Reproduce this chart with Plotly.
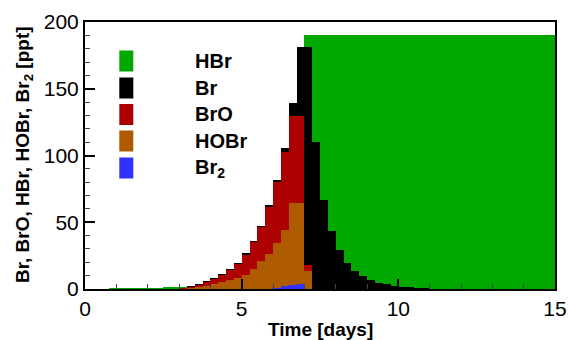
import numpy as np
import plotly.graph_objects as go

# Start of each 0.25-day output interval (days)
time_start = np.arange(0.0, 15.0, 0.25)
bin_width = 0.25

# Mixing ratios per interval [ppt]
br2 = [0]*22 + [0.1, 0.3, 0.8, 2.0, 3.3, 3.7] + [0]*32

hobr = ([0]*10
        + [0.1, 0.2, 0.4, 0.8, 1.5, 2.5, 3.8, 5.0, 6.5, 8.3,
           10.8, 15.0, 20.9, 26.2, 33.7, 42.0, 61.2, 60.8, 13.3]
        + [0]*31)

bro = ([0]*10
       + [0.2, 0.3, 0.6, 1.2, 1.8, 2.8, 3.7, 5.8, 8.0, 10.7,
          15.0, 20.3, 25.5, 35.0, 45.8, 58.8, 65.3, 65.3, 5.0]
       + [0]*31)

br = ([0]*4
      + [0.1]*8
      + [0.2, 0.2, 0.2, 0.3, 0.3, 0.3, 0.4, 0.4, 0.5,
         0.6, 0.6, 0.8, 1.0, 2.5, 9.2, 51.2, 162.7, 109.8, 66.5,
         43.3, 29.0, 19.5, 13.5, 9.5, 6.5, 4.8, 3.5, 2.3, 1.5,
         1.2, 0.9, 0.6, 0.2]
      + [0]*15)

hbr = ([0]*3
       + [0.4, 0.5, 0.5, 0.6, 0.6, 0.6, 0.6, 0.5, 0.4, 0.3]
       + [0]*15
       + [9.3, 80.2, 123.5, 146.7, 161.0, 170.5, 176.5, 180.5,
          183.5, 185.2, 186.5, 187.7, 188.5, 188.8, 189.1, 189.4, 189.8]
       + [190.0]*15)

names = ["Br<sub>2</sub>", "HOBr", "BrO", "Br", "HBr"]
series = [br2, hobr, bro, br, hbr]
colors = ["#3030ff", "#ad5a00", "#ad0000", "#000000", "#00a800"]

x_title = "<b>Time [days]</b>"
y_title = "<b>Br, BrO, HBr, HOBr, Br<sub>2</sub> [ppt]</b>"

FONT = "Liberation Sans, Arial, Helvetica, sans-serif"

fig = go.Figure()
for name, vals, col in zip(names, series, colors):
    fig.add_trace(go.Bar(
        x=time_start, y=vals, offset=0, width=bin_width,
        name=name, marker=dict(color=col, line=dict(width=0)),
        showlegend=False,
    ))

# Plot-area edges in pixels, used to place the key and axis titles
W, H = 568, 340
L, R, T, B = 85, 555, 22, 289
def px_x(p):
    return (p - L) / (R - L)
def px_y(p):
    return (B - p) / (B - T)

# Hand-drawn key in the upper-left corner (top entry first)
row_centres = [61, 88, 114.5, 141, 168]
for name, col, yc in zip(names[::-1], colors[::-1], row_centres):
    fig.add_shape(type="rect", xref="paper", yref="paper",
                  x0=px_x(119.3), x1=px_x(133.3),
                  y0=px_y(yc + 10.5), y1=px_y(yc - 10.5),
                  fillcolor=col, line=dict(width=0))
    fig.add_annotation(xref="paper", yref="paper", x=px_x(193), y=px_y(yc),
                       xanchor="left", yanchor="middle", showarrow=False,
                       text=f"<b>{name}</b>",
                       font=dict(family=FONT, size=20, color="black"))

# Axis titles
fig.add_annotation(xref="paper", yref="paper", x=px_x(320), y=px_y(329),
                   xanchor="center", yanchor="middle", showarrow=False,
                   text=x_title, font=dict(family=FONT, size=19, color="black"))
fig.add_annotation(xref="paper", yref="paper", x=px_x(24), y=px_y(155),
                   xanchor="center", yanchor="middle", showarrow=False,
                   textangle=-90,
                   text=y_title, font=dict(family=FONT, size=19, color="black"))

axis_common = dict(
    showline=True, linewidth=2, linecolor="black", mirror=True,
    showgrid=False, zeroline=False, automargin=False,
    ticks="inside", ticklen=10, tickwidth=2, tickcolor="black",
    tickfont=dict(family=FONT, size=21, color="black"),
)

fig.update_layout(
    width=W, height=H,
    margin=dict(l=L, r=W - R, t=T, b=H - B),
    paper_bgcolor="white", plot_bgcolor="white",
    barmode="stack", bargap=0,
    font=dict(family=FONT, color="black"),
    xaxis=dict(range=[0, 15], tickvals=[0, 5, 10, 15],
               minor=dict(dtick=1, ticks="inside", ticklen=5, tickwidth=1,
                          tickcolor="#444"),
               **axis_common),
    yaxis=dict(range=[0, 200], tickvals=[0, 50, 100, 150, 200],
               minor=dict(dtick=10, ticks="inside", ticklen=5, tickwidth=1,
                          tickcolor="#444"),
               **axis_common),
)

fig.write_html("out.html")
